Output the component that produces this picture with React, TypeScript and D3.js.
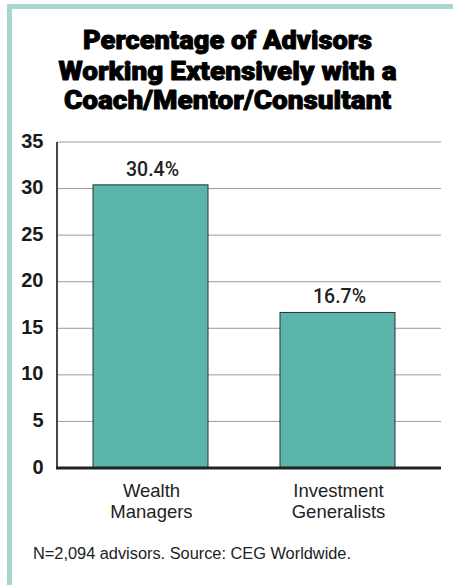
import React from "react";
import * as d3 from "d3";

const titleLines = [
  "Percentage of Advisors",
  "Working Extensively with a",
  "Coach/Mentor/Consultant",
];
const categories = ["Wealth Managers", "Investment Generalists"];
const categoryLines = [
  ["Wealth", "Managers"],
  ["Investment", "Generalists"],
];
const values = [30.4, 16.7];
const valueLabels = ["30.4%", "16.7%"];
const yTicks = [0, 5, 10, 15, 20, 25, 30, 35];
const footnote = "N=2,094 advisors. Source: CEG Worldwide.";

const W = 453;
const H = 585;
const left = 57;
const right = 441;
const top = 142;
const bottom = 468;

export default function App() {
  const y = d3.scaleLinear().domain([0, 35]).range([bottom, top]);
  const x = d3
    .scaleBand<string>()
    .domain(categories)
    .range([left, 431])
    .paddingInner(0.385)
    .paddingOuter(0.1925);

  const titleWidths = [289, 338, 327];
  const titleBaselines = [49, 80, 109];

  return (
    <div style={{ position: "absolute", left: 0, top: 0 }}>
      <svg width={W} height={H} style={{ display: "block" }}>
        <rect x={0} y={0} width={W} height={H} fill="#fff" />
        {/* border */}
        <rect x={7} y={4} width={W - 7} height={5} fill="#a8d7d0" />
        <rect x={7} y={4} width={5} height={H - 4} fill="#a8d7d0" />

        {/* title */}
        {titleLines.map((t, i) => (
          <text
            key={i}
            x={227.5}
            y={titleBaselines[i]}
            textAnchor="middle"
            fontFamily="Roboto, 'Liberation Sans', sans-serif"
            fontWeight={900}
            fontSize={25.5}
            fill="#000"
            stroke="#000"
            strokeWidth={0.9}
            strokeLinejoin="round"
            textLength={titleWidths[i]}
            lengthAdjust="spacingAndGlyphs"
          >
            {t}
          </text>
        ))}

        {/* gridlines */}
        {yTicks
          .filter((t) => t > 0)
          .map((t) => (
            <line
              key={t}
              x1={left}
              x2={right}
              y1={y(t)}
              y2={y(t)}
              stroke="#9a9a9a"
              strokeWidth={1}
            />
          ))}

        {/* y tick labels */}
        {yTicks.map((t) => (
          <text
            key={t}
            x={43.5}
            y={y(t) + 5.5}
            textAnchor="end"
            fontFamily="'Liberation Sans', Arial, sans-serif"
            fontWeight={700}
            fontSize={20}
            fill="#1a1a1a"
          >
            {t}
          </text>
        ))}

        {/* bars */}
        {categories.map((c, i) => (
          <rect
            key={c}
            x={x(c)!}
            y={y(values[i])}
            width={x.bandwidth()}
            height={y(0) - y(values[i])}
            fill="#5bb5a9"
            stroke="#2f2f2f"
            strokeWidth={1}
          />
        ))}

        {/* value labels */}
        {categories.map((c, i) => (
          <text
            key={c}
            x={x(c)! + x.bandwidth() / 2 + 2}
            y={y(values[i]) - 9}
            textAnchor="middle"
            fontFamily="Roboto, 'Liberation Sans', sans-serif"
            fontWeight={500}
            fontSize={19.5}
            fill="#222"
          >
            {valueLabels[i]}
          </text>
        ))}

        {/* axes */}
        <line x1={57} x2={57} y1={top} y2={bottom} stroke="#333" strokeWidth={1.8} />
        <line x1={left - 1} x2={right} y1={bottom} y2={bottom} stroke="#222" strokeWidth={3} />

        {/* category labels */}
        {categories.map((c, i) =>
          categoryLines[i].map((ln, j) => (
            <text
              key={c + j}
              x={x(c)! + x.bandwidth() / 2 + 1}
              y={497 + j * 21}
              textAnchor="middle"
              fontFamily="'Liberation Sans', Arial, sans-serif"
              fontSize={18.5}
              fill="#222"
            >
              {ln}
            </text>
          ))
        )}

        {/* footnote */}
        <text
          x={33}
          y={559}
          fontFamily="'Liberation Sans', Arial, sans-serif"
          fontSize={16}
          fill="#222"
          textLength={318}
          lengthAdjust="spacingAndGlyphs"
        >
          {footnote}
        </text>
      </svg>
    </div>
  );
}
